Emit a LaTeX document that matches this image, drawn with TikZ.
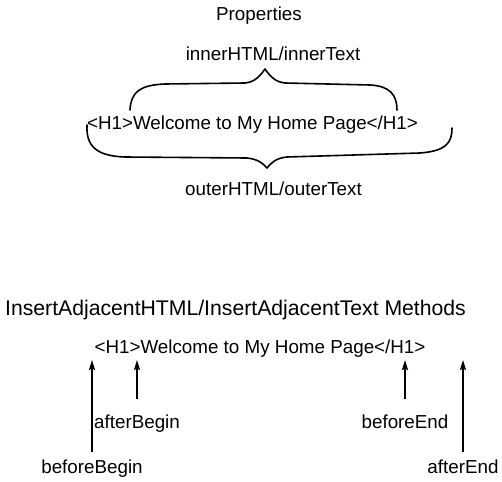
\documentclass[tikz,border=0pt]{standalone}
\usepackage{fontspec}
\setmainfont{Liberation Sans}
\usetikzlibrary{arrows.meta}

\tikzset{
    txt/.style={inner sep=0pt,anchor=base,font=\fontsize{18.8}{22}\selectfont},
    headtxt/.style={txt,font=\fontsize{21.2}{25}\selectfont},
    brace/.style={line width=1.6pt,line join=round,line cap=round},
    arr/.style={line width=1.8pt,-{Stealth[length=10pt,width=6pt,inset=1.5pt]}}
}

\begin{document}
\begin{tikzpicture}[x=1pt,y=-1pt]
    \useasboundingbox (0,0) rectangle (502,481);

    % Properties part
    \node[txt] (props) at (259,20.5) {Properties};
    \node[txt] (inner) at (273,61) {innerHTML/innerText};
    \node[txt] (tagone) at (252.5,129) {<H1>Welcome to My Home Page</H1>};
    \node[txt] (outer) at (273.5,195) {outerHTML/outerText};

    % Brace above the text (inner)
    \draw[brace] (130,110) .. controls (131,92) and (140,85) .. (165,84)
        -- (245,83) .. controls (255,82) and (260,76) .. (265,69)
        .. controls (270,76) and (275,82) .. (285,83)
        -- (370,85) .. controls (390,86) and (397,95) .. (397,110);
    % Brace below the text (outer)
    \draw[brace] (87,125) .. controls (86,145) and (95,156) .. (125,157)
        -- (247,158) .. controls (257,159) and (263,163) .. (267,168)
        .. controls (271,163) and (276,158) .. (287,157)
        -- (420,153) .. controls (446,151) and (452,143) .. (452,128);

    % Methods part
    \node[headtxt] (meth) at (235.5,315.5) {InsertAdjacentHTML/InsertAdjacentText Methods};
    \node[txt] (tagtwo) at (260,353) {<H1>Welcome to My Home Page</H1>};
    \coordinate (tips) at (0,360);

    % Insert positions with their arrows
    \foreach \nm/\xx/\yy/\gap/\lbl in {bb/92/473.5/8/beforeBegin,
                                       ab/137/428.5/16/afterBegin,
                                       be/405/428.5/16/beforeEnd,
                                       ae/463/473.5/8/afterEnd} {
        \node[txt] (\nm) at (\xx,\yy) {\lbl};
        \draw[arr] ([yshift=\gap pt]\nm.north) -- (\nm.north |- tips);
    }
\end{tikzpicture}
\end{document}
